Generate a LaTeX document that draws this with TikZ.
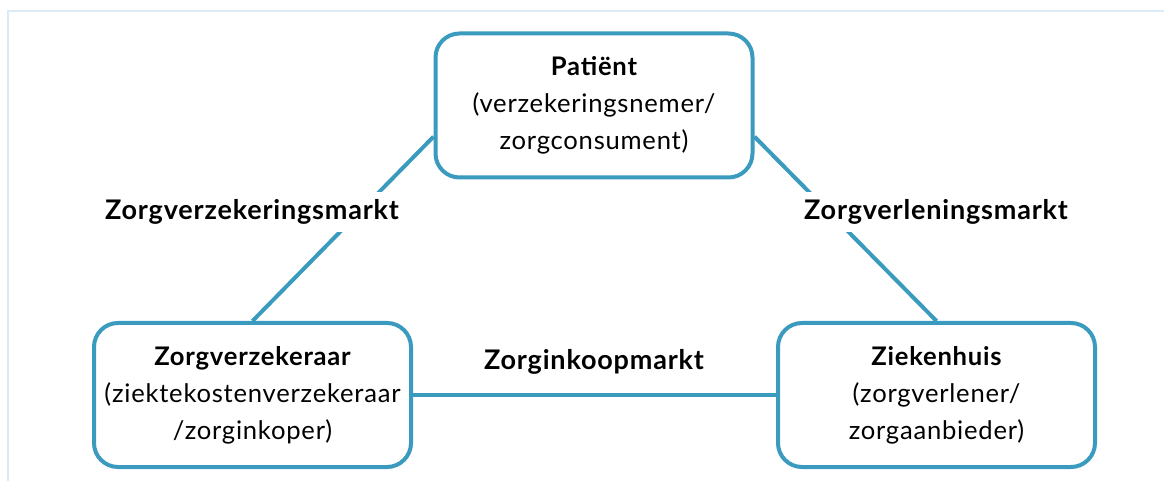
\documentclass[tikz,border=0pt]{standalone}
\usepackage{fontspec}
\setmainfont{Lato}[LetterSpace=3]
\definecolor{zorgblauw}{HTML}{3A9BBF}
\definecolor{kaderblauw}{HTML}{DCEAF5}
\begin{document}
\begin{tikzpicture}
      [x=0.5pt,y=-0.5pt,%%%%%%%%%%%%%%%%%%%%%%%%%%%%%%
      box/.style={rectangle,draw=zorgblauw,line width=2pt,rounded corners=12pt,fill=white,
        minimum width=158.5pt,minimum height=72pt,inner sep=0pt,align=center,
        font=\fontsize{12.8}{18.5}\selectfont},
      markt/.style={fill=white,inner xsep=2pt,inner ysep=4pt,font=\fontsize{13.5}{15}\selectfont\bfseries},
      lijn/.style={draw=zorgblauw,line width=2pt},
      ]%%%%%%%%%%%%%%%%%%%%%%%%%%%%%%
      \useasboundingbox (0,0) rectangle (1164,481);
      \draw[kaderblauw,line width=1pt] (8,481) -- (8,11) -- (1164,11);

      \node[box] (patient) at (594,105.5) {{\bfseries Patiënt}\\(verzekeringsnemer/\\zorgconsument)};
      \node[box] (verzekeraar) at (252.5,395) {{\bfseries Zorgverzekeraar}\\(ziektekostenverzekeraar\\/zorginkoper)};
      \node[box] (ziekenhuis) at (936.5,395) {{\bfseries Ziekenhuis}\\(zorgverlener/\\zorgaanbieder)};

      \draw[lijn] (patient.191) -- (verzekeraar.north);
      \draw[lijn] (patient.-11) -- (ziekenhuis.north);
      \draw[lijn] (verzekeraar.east) -- (ziekenhuis.west);

      \node[markt] (verzekeringsmarkt) at (252,212) {Zorgverzekeringsmarkt};
      \node[markt] (verleningsmarkt) at (936,212) {Zorgverleningsmarkt};
      \node[markt] (inkoopmarkt) at (594,362) {Zorginkoopmarkt};
    \end{tikzpicture}
\end{document}
